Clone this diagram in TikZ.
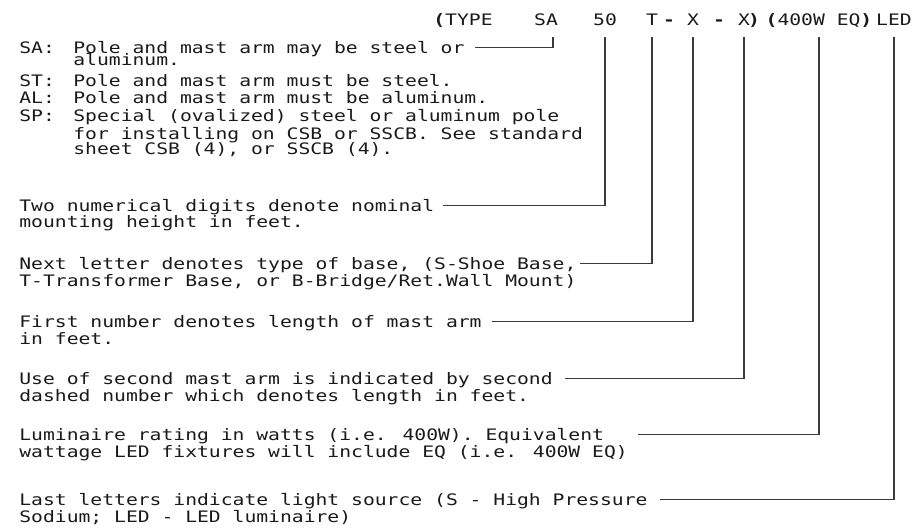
\documentclass[tikz,border=0pt]{standalone}
\usepackage{fontspec}
\usepackage{xcolor}
\usepackage{tikz}
\newfontfamily\cadfont{DejaVu Sans Mono}[FakeStretch=1.245]
\definecolor{ink}{HTML}{1A1A1A}
\definecolor{lead}{HTML}{3A3A3A}

\begin{document}
\begin{tikzpicture}[
  txt/.style={font=\cadfont\fontsize{9}{10}\selectfont, text=ink, inner sep=0pt, anchor=base west, text height=6.6pt, text depth=0pt},
  code/.style={txt, anchor=base, outer ysep=6.8pt},
  ldr/.style={draw=lead, line width=0.7pt},
  x=0.02cm, y=-0.02cm]
\useasboundingbox (0,0) rectangle (922,529);
% header
\node[code, anchor=base west] (htype) at (433,25) {\textbf{(}TYPE};
\node[code] (hsa)    at (546,25) {SA};
\node[code] (hht)    at (605,25) {50};
\node[code] (hbase)  at (652,25) {T};
\node[code] (hdasha) at (669,25) {\textbf{-}};
\node[code] (harm)   at (693,25) {X};
\node[code] (hdashb) at (719,25) {\textbf{-}};
\node[code] (harmb)  at (744,25) {X};
\node[code] (hclose) at (754,25) {\textbf{)}};
\node[code] (hwatt)  at (819,25) {\textbf{(}400W EQ\textbf{)}};
\node[code] (hsrc)   at (894,25) {LED};
% type codes
\foreach \t/\y in {SA/53, ST/86, AL/103, SP/121}
  \node[txt] (lab\t) at (19,\y) {\t:};
\node[txt] (dsa)  at (73,53)  {Pole and mast arm may be steel or};
\node[txt] (dsa2) at (73,65)  {aluminum.};
\node[txt] (dst)  at (73,86)  {Pole and mast arm must be steel.};
\node[txt] (dal)  at (73,103) {Pole and mast arm must be aluminum.};
\node[txt] (dsp)  at (73,121) {Special (ovalized) steel or aluminum pole};
\node[txt] (dsp2) at (73,139) {for installing on CSB or SSCB. See standard};
\node[txt] (dsp3) at (73,154) {sheet CSB (4), or SSCB (4).};
% descriptions
\node[txt] (dht)    at (19,211) {Two numerical digits denote nominal};
\node[txt] (dht2)   at (19,227) {mounting height in feet.};
\node[txt] (dbase)  at (19,269) {Next letter denotes type of base, (S-Shoe Base,};
\node[txt] (dbase2) at (19,286) {T-Transformer Base, or B-Bridge/Ret.Wall Mount)};
\node[txt] (darm)   at (19,327) {First number denotes length of mast arm};
\node[txt] (darm2)  at (19,344) {in feet.};
\node[txt] (duse)   at (19,384) {Use of second mast arm is indicated by second};
\node[txt] (duse2)  at (19,401) {dashed number which denotes length in feet.};
\node[txt] (dwatt)  at (19,440) {Luminaire rating in watts (i.e. 400W). Equivalent};
\node[txt] (dwatt2) at (19,457) {wattage LED fixtures will include EQ (i.e. 400W EQ)};
\node[txt] (dsrc)   at (19,505) {Last letters indicate light source (S - High Pressure};
\node[txt] (dsrc2)  at (19,522) {Sodium; LED - LED luminaire)};
% leaders
\draw[ldr] ([xshift=6pt]dsa.east) -| ([xshift=-3pt]hsa.south east);
\foreach \d/\c/\g in {dht/hht/5pt, dbase/hbase/2pt, darm/harm/6pt, duse/harmb/7pt, dwatt/hwatt/19pt, dsrc/hsrc/7pt}
  \draw[ldr] ([xshift=\g]\d.east) -| (\c.south);
\end{tikzpicture}
\end{document}
